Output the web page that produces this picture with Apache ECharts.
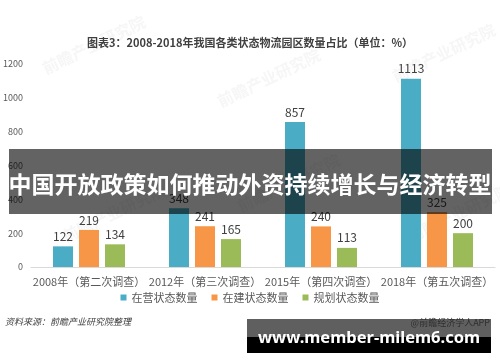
<!DOCTYPE html>
<html><head><meta charset="utf-8">
<script src="https://cdn.jsdelivr.net/npm/echarts@6/dist/echarts.min.js"></script>
<style>html,body{margin:0;padding:0;background:#fff}#c{width:500px;height:362px}</style>
</head><body><div id="c"></div>
<script>
var categories = ['2008年（第二次调查）','2012年（第三次调查）','2015年（第四次调查）','2018年（第五次调查）'];
var operating = [122, 348, 857, 1113];
var building = [219, 241, 240, 325];
var planned = [134, 165, 113, 200];
var seriesNames = ['在营状态数量','在建状态数量','规划状态数量'];
var yTicks = {min: 0, max: 1200, interval: 200};
var titleText = '图表3：2008-2018年我国各类状态物流园区数量占比（单位：%）';
var bannerText = '中国开放政策如何推动外资持续增长与经济转型';
var siteText = 'www.member-milem6.com';
var sourceText = '资料来源：前瞻产业研究院整理';
var appText = '@前瞻经济学人APP';

var font = '"Noto Sans CJK SC", "Noto Sans", sans-serif';
var chart = echarts.init(document.getElementById('c'), null, {renderer: 'canvas'});
var labelCfg = {show: true, position: 'top', distance: 4, color: '#404040', fontSize: 12, fontFamily: font};
var wm = [];
[[40,62],[215,95],[390,70],[60,230],[235,200],[405,230]].forEach(function(p){
  wm.push({type:'text', x:p[0], y:p[1], rotation: 0.45, z: 1,
    style:{text:'前瞻产业研究院', fill:'rgba(190,190,190,0.14)', font:'bold 16px ' + font}});
});
chart.setOption({
  animation: false,
  textStyle: {fontFamily: font},
  title: {text: titleText, left: 'center', top: 32,
    textStyle: {fontSize: 11, fontWeight: 'bold', color: '#404040', fontFamily: font}},
  grid: {left: 30, right: 5, top: 64, bottom: 95},
  legend: {bottom: 54, left: 'center', itemWidth: 6, itemHeight: 6, itemGap: 14, icon: 'rect',
    textStyle: {fontSize: 11, color: '#595959', fontFamily: font}, data: seriesNames},
  xAxis: {type: 'category', data: categories,
    axisLine: {lineStyle: {color: '#d9d9d9'}}, axisTick: {show: false},
    axisLabel: {color: '#595959', fontSize: 11, margin: 9, interval: 0, fontFamily: font}},
  yAxis: {type: 'value', min: yTicks.min, max: yTicks.max, interval: yTicks.interval,
    splitLine: {show: false}, axisLine: {show: false}, axisTick: {show: false},
    axisLabel: {color: '#595959', fontSize: 9, margin: 8, formatter: function(v){ return String(v); }}},
  series: [
    {name: seriesNames[0], type: 'bar', data: operating, barWidth: 20, barGap: '30%',
      itemStyle: {color: '#4BACC6'}, label: labelCfg},
    {name: seriesNames[1], type: 'bar', data: building, barWidth: 20, barGap: '30%',
      itemStyle: {color: '#F79646'}, label: labelCfg},
    {name: seriesNames[2], type: 'bar', data: planned, barWidth: 20, barGap: '30%',
      itemStyle: {color: '#9BBB59'}, label: labelCfg}
  ],
  graphic: wm.concat([
    {type: 'text', left: 5, top: 317, z: 50,
      style: {text: sourceText, fill: '#404040', font: 'italic 9px ' + font}},
    {type: 'rect', shape: {x: 9, y: 149, width: 483, height: 65}, z: 100,
      style: {fill: 'rgba(0,0,0,0.61)'}},
    {type: 'text', x: 250, y: 184, z: 101,
      style: {text: bannerText, fill: '#ffffff', font: 'bold 23px ' + font, textAlign: 'center', textVerticalAlign: 'middle'}},
    {type: 'rect', shape: {x: 247, y: 319, width: 244, height: 18}, z: 100,
      style: {fill: '#5f5f5f'}},
    {type: 'rect', shape: {x: 247, y: 337, width: 244, height: 16}, z: 100,
      style: {fill: '#000000'}},
    {type: 'text', x: 490, y: 323, z: 101,
      style: {text: appText, fill: '#2e2e2e', font: '9px ' + font, textAlign: 'right', textVerticalAlign: 'middle'}},
    {type: 'text', x: 369, y: 338, z: 101,
      style: {text: siteText, fill: '#ffffff', font: 'bold 16.5px "Noto Sans", sans-serif', textAlign: 'center', textVerticalAlign: 'middle'}}
  ])
});
</script></body></html>
